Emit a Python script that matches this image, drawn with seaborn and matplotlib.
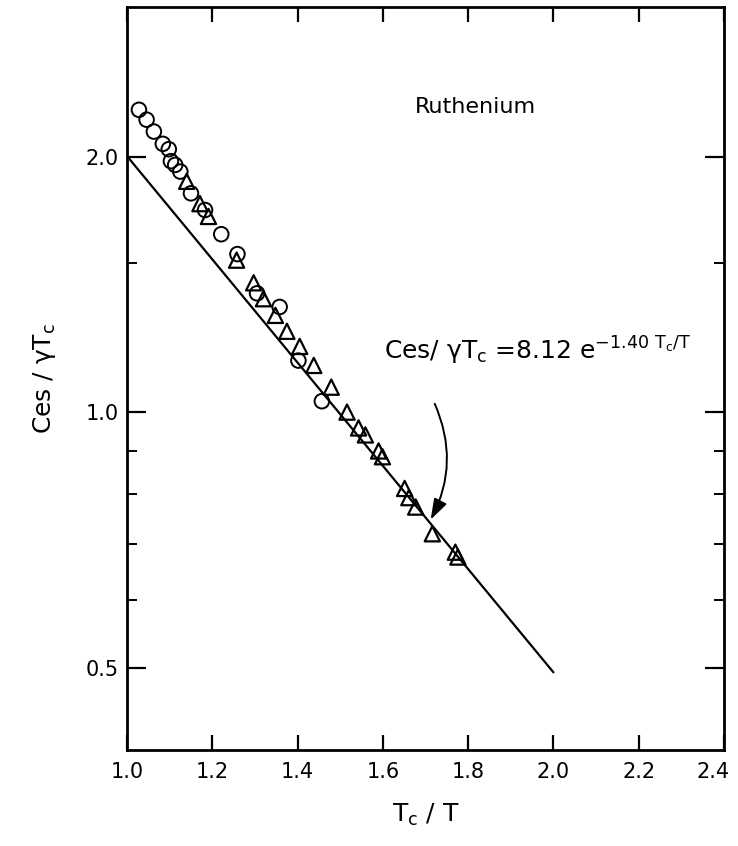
import numpy as np
import pandas as pd
import matplotlib
matplotlib.use("Agg")
import matplotlib.pyplot as plt
from matplotlib.ticker import FixedLocator, FixedFormatter, NullFormatter
from matplotlib.transforms import ScaledTranslation
import seaborn as sns

# Measured specific heat of ruthenium in the superconducting state
circle_x = [1.028, 1.046, 1.063, 1.084, 1.098, 1.103, 1.113, 1.125, 1.150,
            1.183, 1.221, 1.259, 1.305, 1.358, 1.402, 1.457]
circle_y = [2.27, 2.21, 2.14, 2.07, 2.04, 1.975, 1.955, 1.92, 1.81,
            1.73, 1.62, 1.535, 1.38, 1.33, 1.15, 1.03]

triangle_x = [1.140, 1.171, 1.191, 1.257, 1.297, 1.320, 1.348, 1.375, 1.405,
              1.438, 1.479, 1.516, 1.543, 1.559, 1.590, 1.599, 1.651, 1.661,
              1.677, 1.716, 1.770, 1.776]
triangle_y = [1.87, 1.76, 1.70, 1.51, 1.42, 1.36, 1.30, 1.245, 1.195,
              1.135, 1.07, 1.00, 0.958, 0.94, 0.90, 0.886, 0.813, 0.793,
              0.773, 0.719, 0.684, 0.675]

# Exponential fit  Ces/(gamma Tc) = A * exp(-B * Tc/T)
fit_a = 8.12
fit_b = 1.40
fit_range = (1.0, 2.0)

x_ticks = [1.0, 1.2, 1.4, 1.6, 1.8, 2.0, 2.2, 2.4]
x_tick_labels = ["1.0", "1.2", "1.4", "1.6", "1.8", "2.0", "2.2", "2.4"]
y_ticks = [0.5, 1.0, 2.0]
y_tick_labels = ["0.5", "1.0", "2.0"]
y_minor_ticks = [0.6, 0.7, 0.8, 0.9, 1.5]

sns.set_style("ticks")
plt.rcParams["font.family"] = ["DejaVu Sans"]
plt.rcParams["mathtext.fontset"] = "dejavusans"
for key in ["text.color", "axes.labelcolor", "xtick.color", "ytick.color"]:
    plt.rcParams[key] = "black"

fig = plt.figure(figsize=(7.38, 8.46), dpi=100)
ax = fig.add_axes([127 / 738, 1 - 750 / 846, (724 - 127) / 738, (750 - 7) / 846])

fit_x = np.linspace(fit_range[0], fit_range[1], 60)
fit_df = pd.DataFrame({"x": fit_x, "y": fit_a * np.exp(-fit_b * fit_x)})
sns.lineplot(data=fit_df, x="x", y="y", ax=ax, color="black", linewidth=1.6)

circles = pd.DataFrame({"x": circle_x, "y": circle_y})
triangles = pd.DataFrame({"x": triangle_x, "y": triangle_y})
sns.scatterplot(data=circles, x="x", y="y", ax=ax, marker="o", s=110,
                facecolors="none", edgecolor="black", linewidth=1.4, zorder=3)
sns.scatterplot(data=triangles, x="x", y="y", ax=ax, marker="^", s=120,
                facecolors="none", edgecolor="black", linewidth=1.6, zorder=3)
for coll in ax.collections:
    coll.set_facecolor("none")

ax.set_yscale("log")
ax.set_xlim(1.0, 2.4)
ax.set_ylim(0.4, 3.0)

ax.xaxis.set_major_locator(FixedLocator(x_ticks))
ax.xaxis.set_major_formatter(FixedFormatter(x_tick_labels))
ax.yaxis.set_major_locator(FixedLocator(y_ticks))
ax.yaxis.set_major_formatter(FixedFormatter(y_tick_labels))
ax.yaxis.set_minor_locator(FixedLocator(y_minor_ticks))
ax.yaxis.set_minor_formatter(NullFormatter())
ax.xaxis.set_minor_locator(FixedLocator([]))

ax.tick_params(axis="x", which="major", direction="in", length=11, width=1.6,
               top=True, bottom=True, labelsize=15, pad=9)
ax.tick_params(axis="y", which="major", direction="in", length=14, width=1.6,
               left=True, right=True, labelsize=15, pad=6)
ax.tick_params(axis="y", which="minor", direction="in", length=7, width=1.4,
               left=True, right=True)

# pull the last x label in from the figure edge
last_label = ax.get_xticklabels()[-1]
last_label.set_transform(last_label.get_transform()
                         + ScaledTranslation(-8 / 72, 0, fig.dpi_scale_trans))

for side in ["left", "right", "top", "bottom"]:
    ax.spines[side].set_visible(True)
    ax.spines[side].set_linewidth(2.0)
    ax.spines[side].set_color("black")

ax.set_xlabel("T$_\\mathregular{c}$ / T", fontsize=18, labelpad=14)
ax.set_ylabel("Ces / γT$_\\mathregular{c}$", fontsize=18, labelpad=20)

ax.text(1.817, 2.29, "Ruthenium", fontsize=16, ha="center", va="center")

ax.text(1.603, 1.18,
        "Ces/ γT$_\\mathregular{c}$ =8.12 e$^\\mathregular{-1.40\\ T_c/T}$",
        fontsize=18, ha="left", va="center")

tip_x = 1.709
ax.annotate("", xy=(tip_x, fit_a * np.exp(-fit_b * tip_x)), xytext=(1.719, 1.03),
            arrowprops=dict(arrowstyle="-|>,head_length=0.9,head_width=0.3",
                            connectionstyle="arc3,rad=-0.25",
                            color="black", linewidth=1.4, mutation_scale=14))

fig.savefig("out.png", dpi=100)
